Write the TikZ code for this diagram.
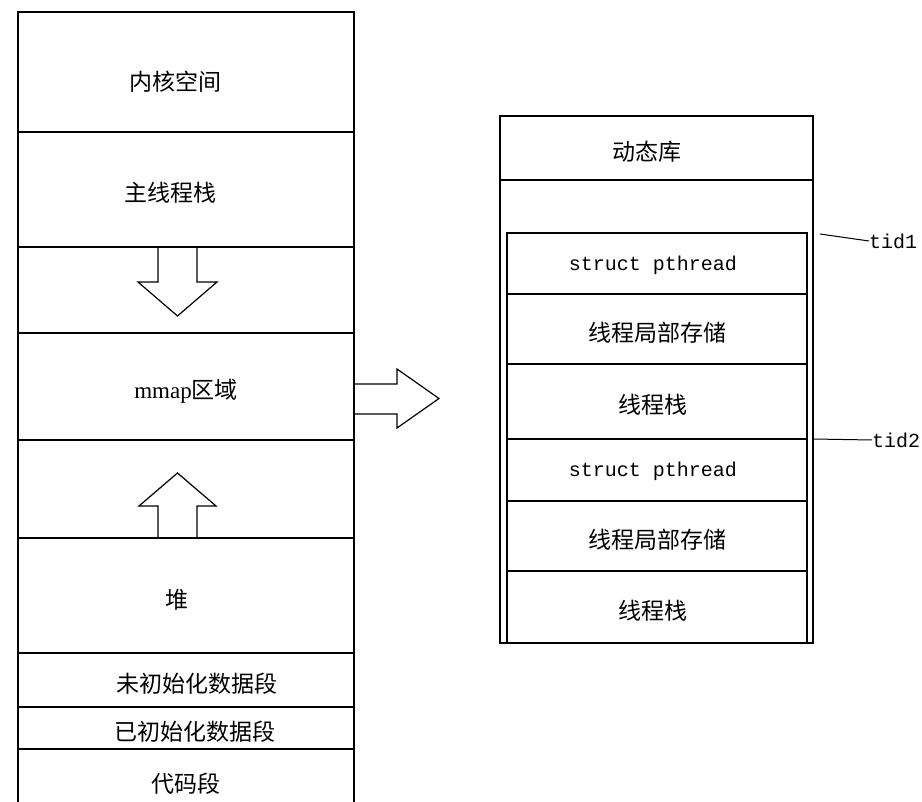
\documentclass[tikz,border=0pt]{standalone}
\usepackage{fontspec}
\setmainfont{Liberation Serif}
\setmonofont{Liberation Mono}
\newfontfamily\cjk{Noto Sans CJK SC}
\usetikzlibrary{positioning}
\tikzset{
  seg/.style={rectangle, draw, line width=1.2pt, outer sep=0pt, inner sep=0pt, minimum width=336pt, text height=25pt, text depth=0pt, font=\cjk\fontsize{23}{27}\selectfont},
  thr/.style={seg, minimum width=300pt},
  code/.style={text height=16pt, text depth=2pt, font=\ttfamily\fontsize{20}{24}\selectfont},
  tid/.style={anchor=west, inner sep=0pt, font=\ttfamily\fontsize{20}{24}\selectfont},
  bigarr/.style={line width=1.2pt, line join=miter},
  lnk/.style={line width=1pt},
}
\begin{document}
\begin{tikzpicture}[x=1pt, y=-1pt, node distance=0pt]
  \useasboundingbox (0,0) rectangle (922,802);
  % process address space
  \node[seg, minimum height=120pt, anchor=north] (kernel) at (186,12) {\hspace*{-22pt}\raisebox{-6pt}{内核空间}};
  \node[seg, minimum height=115pt, below=of kernel] (mainstk) {\hspace*{-32pt}主线程栈};
  \node[seg, minimum height=86pt, below=of mainstk] (gapA) {};
  \node[seg, minimum height=107pt, below=of gapA] (mmap) {{\rmfamily mmap}区域};
  \node[seg, minimum height=98pt, below=of mmap] (gapB) {};
  \node[seg, minimum height=115pt, below=of gapB] (heap) {\hspace*{-18pt}堆};
  \node[seg, minimum height=54pt, below=of heap] (bss) {\hspace*{22pt}未初始化数据段};
  \node[seg, minimum height=42pt, below=of bss] (data) {\hspace*{18pt}已初始化数据段};
  \node[seg, minimum height=62pt, below=of data] (text) {代码段};
  % growth arrows
  \draw[bigarr] (158,247) -- (158,282) -- (138,282) -- (177.5,316) -- (217,282) -- (197,282) -- (197,247);
  \draw[bigarr] (158,538) -- (158,506) -- (139,506) -- (177.5,473) -- (216,506) -- (197,506) -- (197,538);
  \draw[bigarr] (354,384) -- (397,384) -- (397,369) -- (439,398.5) -- (397,428) -- (397,414) -- (354,414);
  % shared library area
  \node[seg, minimum width=313pt, minimum height=527pt, anchor=north west] (lib) at (500,116) {};
  \node[seg, minimum width=313pt, minimum height=64pt, anchor=north] (dynlib) at (lib.north) {\hspace*{-20pt}动态库};
  \node[thr, code, minimum height=61pt, anchor=north] (ptA) at (657,233) {\hspace*{-8pt}struct pthread};
  \node[thr, minimum height=70pt, below=of ptA] (tlsA) {线程局部存储};
  \node[thr, minimum height=75pt, below=of tlsA] (stkA) {\hspace*{-8pt}线程栈};
  \node[thr, code, minimum height=62pt, below=of stkA] (ptB) {\hspace*{-8pt}struct pthread};
  \node[thr, minimum height=70pt, below=of ptB] (tlsB) {线程局部存储};
  \node[thr, minimum height=72pt, below=of tlsB] (stkB) {\hspace*{-8pt}线程栈};
  % thread ids
  \node[tid] (tidA) at (869,241) {tid1};
  \node[tid] (tidB) at (872,440) {tid2};
  \coordinate (tidAend) at (820,234);
  \coordinate (tidBend) at (813,439);
  \draw[lnk] (tidAend) -- (tidA.west);
  \draw[lnk] (tidBend) -- (tidB.west);
\end{tikzpicture}
\end{document}
